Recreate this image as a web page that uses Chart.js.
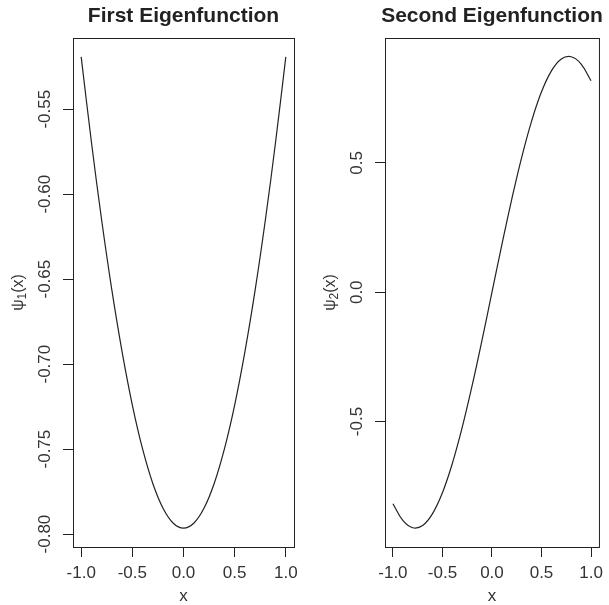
<!DOCTYPE html>
<html>
<head>
<meta charset="utf-8">
<script src="https://cdn.jsdelivr.net/npm/chart.js@4/dist/chart.umd.min.js"></script>
<style>
body { margin: 0; background: #fff; }
#wrap { position: relative; width: 609px; height: 605px; }
#c1 { position: absolute; left: 0; top: 0; }
#c2 { position: absolute; left: 304px; top: 0; }
</style>
</head>
<body>
<div id="wrap">
  <canvas id="c1" width="304" height="605"></canvas>
  <canvas id="c2" width="305" height="605"></canvas>
</div>
<script>
// values
var xs = [-1, -0.9, -0.8, -0.7, -0.6, -0.5, -0.4, -0.3, -0.2, -0.1, 0,
          0.1, 0.2, 0.3, 0.4, 0.5, 0.6, 0.7, 0.8, 0.9, 1];
var psi1 = [-0.5192, -0.5693, -0.6152, -0.6565, -0.6928, -0.7241, -0.7499, -0.7702, -0.7848, -0.7936, -0.7965,
            -0.7936, -0.7848, -0.7702, -0.7499, -0.7241, -0.6928, -0.6565, -0.6152, -0.5693, -0.5192];
var psi2 = [-0.8177, -0.8824, -0.9106, -0.9018, -0.8559, -0.7749, -0.6618, -0.5218, -0.3602, -0.1839, 0,
            0.1839, 0.3602, 0.5218, 0.6618, 0.7749, 0.8559, 0.9018, 0.9106, 0.8824, 0.8177];

var xTicks = [-1, -0.5, 0, 0.5, 1];
var xTickLabels = ['-1.0', '-0.5', '0.0', '0.5', '1.0'];
var y1Ticks = [-0.80, -0.75, -0.70, -0.65, -0.60, -0.55];
var y1TickLabels = ['-0.80', '-0.75', '-0.70', '-0.65', '-0.60', '-0.55'];
var y2Ticks = [-0.5, 0, 0.5];
var y2TickLabels = ['-0.5', '0.0', '0.5'];

var FONT = '"Liberation Sans", Arial, sans-serif';
var INK = '#222';

// R-style titles, rotated y tick labels, axis labels and box
var rStyle = {
  id: 'rStyle',
  afterDraw: function (chart, args, opts) {
    var c = chart.ctx, a = chart.chartArea, ys = chart.scales.y;
    c.save();
    c.fillStyle = INK;
    c.strokeStyle = INK;
    c.lineWidth = 1;
    c.strokeRect(a.left + 0.5, a.top + 0.5, a.right - a.left, a.bottom - a.top);

    c.textAlign = 'center';
    c.textBaseline = 'middle';
    c.font = 'bold 21px ' + FONT;
    c.fillText(opts.title, (a.left + a.right) / 2, 16);

    c.font = '17px ' + FONT;
    c.fillStyle = '#333';
    c.fillText('x', (a.left + a.right) / 2, 596);

    // y tick labels, rotated like R's las=0
    ys.ticks.forEach(function (t, i) {
      c.save();
      c.translate(a.left - 28, ys.getPixelForValue(t.value));
      c.rotate(-Math.PI / 2);
      c.fillText(opts.yLabels[i], 0, 0);
      c.restore();
    });

    // psi_k(x) label
    c.save();
    c.translate(a.left - 54, (a.top + a.bottom) / 2);
    c.rotate(-Math.PI / 2);
    c.textAlign = 'left';
    c.font = '16px ' + FONT;
    var w1 = c.measureText('\u03c8').width;
    c.font = '12px ' + FONT;
    var w2 = c.measureText(opts.sub).width;
    c.font = '16px ' + FONT;
    var w3 = c.measureText('(x)').width;
    var x0 = -(w1 + w2 + w3) / 2;
    c.fillText('\u03c8', x0, 0);
    c.font = '12px ' + FONT;
    c.fillText(opts.sub, x0 + w1, 4);
    c.font = '16px ' + FONT;
    c.fillText('(x)', x0 + w1 + w2, 0);
    c.restore();

    c.restore();
  }
};

function makeChart(id, values, yMin, yMax, yTicks, yTickLabels, title, sub, yWidth, padRight) {
  var pts = xs.map(function (x, i) { return { x: x, y: values[i] }; });
  return new Chart(document.getElementById(id), {
    type: 'line',
    data: {
      datasets: [{
        data: pts,
        borderColor: INK,
        borderWidth: 1.2,
        pointRadius: 0,
        tension: 0.4,
        fill: false
      }]
    },
    options: {
      responsive: false,
      animation: false,
      events: [],
      layout: { padding: { left: 0, right: padRight, top: 38, bottom: 0 } },
      plugins: {
        legend: { display: false },
        tooltip: { enabled: false },
        rStyle: { title: title, sub: sub, yLabels: yTickLabels }
      },
      scales: {
        x: {
          type: 'linear',
          min: -1.08,
          max: 1.08,
          afterBuildTicks: function (s) { s.ticks = xTicks.map(function (v) { return { value: v }; }); },
          afterFit: function (s) { s.height = 58; },
          ticks: {
            autoSkip: false,
            maxRotation: 0,
            padding: 6,
            color: '#333',
            font: { family: FONT, size: 17 },
            callback: function (v, i) { return xTickLabels[i]; }
          },
          grid: { drawOnChartArea: false, drawTicks: true, tickLength: 10, color: INK, lineWidth: 1 },
          border: { display: false }
        },
        y: {
          type: 'linear',
          min: yMin,
          max: yMax,
          afterBuildTicks: function (s) { s.ticks = yTicks.map(function (v) { return { value: v }; }); },
          afterFit: function (s) { s.width = yWidth; },
          ticks: { display: false },
          grid: { drawOnChartArea: false, drawTicks: true, tickLength: 10, color: INK, lineWidth: 1 },
          border: { display: false }
        }
      }
    },
    plugins: [rStyle]
  });
}

makeChart('c1', psi1, -0.8076, -0.5081, y1Ticks, y1TickLabels, 'First Eigenfunction', '1', 73, 10);
makeChart('c2', psi2, -0.985, 0.983, y2Ticks, y2TickLabels, 'Second Eigenfunction', '2', 81, 4);
</script>
</body>
</html>
